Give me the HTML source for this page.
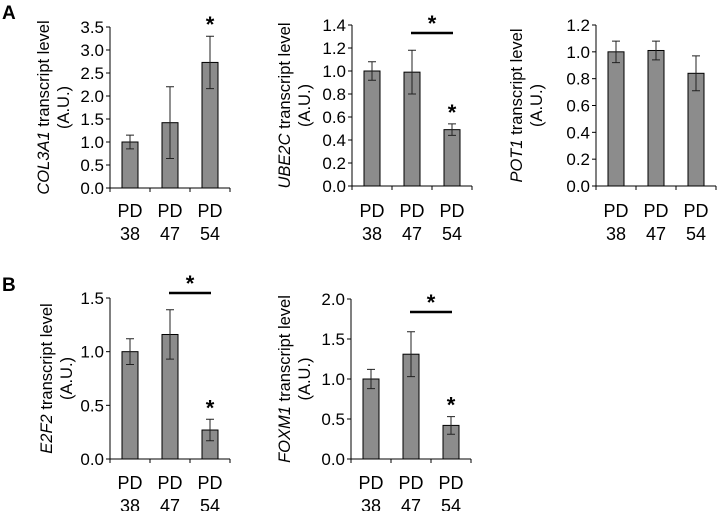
<!DOCTYPE html>
<html><head><meta charset="utf-8"><style>
html,body{margin:0;padding:0;background:#fff;overflow:hidden;}
svg text{font-family:"Liberation Sans",sans-serif;fill:#000;}
</style></head><body>
<svg id="fig" width="717" height="511" viewBox="0 0 717 511" xmlns="http://www.w3.org/2000/svg">
<text x="2" y="19" font-size="19" font-weight="bold">A</text>
<text x="2" y="291" font-size="19" font-weight="bold">B</text>
</svg>
<script>
const categories = [["PD","38"],["PD","47"],["PD","54"]];
const col3a1Values = [1.0, 1.42, 2.73];
const col3a1Errors = [0.15, 0.78, 0.57];
const ube2cValues = [1.0, 0.99, 0.49];
const ube2cErrors = [0.08, 0.19, 0.05];
const pot1Values = [1.0, 1.01, 0.84];
const pot1Errors = [0.08, 0.07, 0.13];
const e2f2Values = [1.0, 1.16, 0.27];
const e2f2Errors = [0.12, 0.23, 0.10];
const foxm1Values = [1.0, 1.31, 0.42];
const foxm1Errors = [0.12, 0.28, 0.11];
const col3a1Ticks = ["0.0","0.5","1.0","1.5","2.0","2.5","3.0","3.5"];
const ube2cTicks = ["0.0","0.2","0.4","0.6","0.8","1.0","1.2","1.4"];
const pot1Ticks = ["0.0","0.2","0.4","0.6","0.8","1.0","1.2"];
const e2f2Ticks = ["0.0","0.5","1.0","1.5"];
const foxm1Ticks = ["0.0","0.5","1.0","1.5","2.0"];

const NS = "http://www.w3.org/2000/svg";
const svg = document.getElementById('fig');
function mk(tag, attrs, parent){
  const e = document.createElementNS(NS, tag);
  for (const k in attrs) e.setAttribute(k, attrs[k]);
  (parent||svg).appendChild(e);
  return e;
}
function panel(cfg){
  const g = mk('g', {});
  
  
  const ticks = cfg.ticks.map(Number);
  const ymax = ticks[ticks.length-1];
  const y = v => cfg.y0 - (v/ymax)*(cfg.y0-cfg.y1);
  const x = i => cfg.ax + 20 + 40*i;
  const axEnd = cfg.ax + 120;
  const ya = mk('line', {x1:cfg.ax, y1:cfg.y1, x2:cfg.ax, y2:cfg.y0, stroke:'#000', 'stroke-width':1}, g);
  
  
  cfg.ticks.forEach(t => {
    const yy = y(Number(t));
    mk('line', {x1:cfg.ax-4, y1:yy, x2:cfg.ax, y2:yy, stroke:'#000'}, g);
    const tl = mk('text', {x:cfg.ax-6, y:yy+6, 'font-size':17, 'text-anchor':'end'}, g);
    tl.textContent = t;
    
    
  });
  const xa = mk('line', {x1:cfg.ax, y1:cfg.y0, x2:axEnd, y2:cfg.y0, stroke:'#000'}, g);
  
  
  for (let i=0;i<=3;i++) mk('line', {x1:cfg.ax+40*i, y1:cfg.y0, x2:cfg.ax+40*i, y2:cfg.y0+4, stroke:'#000'}, g);
  categories.forEach((c,i) => {
    const t1 = mk('text', {x:x(i), y:cfg.y0+cfg.lab1, 'font-size':18, 'text-anchor':'middle'}, g);
    t1.textContent = c[0];
    
    
    const t2 = mk('text', {x:x(i), y:cfg.y0+cfg.lab1+23, 'font-size':18, 'text-anchor':'middle'}, g);
    t2.textContent = c[1];
    
    
  });
  cfg.values.forEach((v,i) => {
    const b = mk('rect', {x:x(i)-8, y:y(v), width:16, height:cfg.y0-y(v), fill:'#8c8c8c', stroke:'#000', 'stroke-width':1}, g);
    
    
    const e = cfg.errors[i];
    const eb = mk('path', {d:`M${x(i)},${y(v+e)}V${y(v-e)}M${x(i)-4},${y(v+e)}H${x(i)+4}M${x(i)-4},${y(v-e)}H${x(i)+4}`, stroke:'#222', fill:'none', 'stroke-width':1}, g);
    
    
  });
  const cx = cfg.ax - cfg.titleOff, cy = (cfg.y0+cfg.y1)/2;
  const tt = mk('text', {x:cx+5, y:cy, 'font-size':16.5, 'text-anchor':'middle', transform:`rotate(-90 ${cx+5} ${cy})`}, g);
  
  
  const ts = mk('tspan', {'font-style':'italic'}, tt); ts.textContent = cfg.gene;
  const ts2 = mk('tspan', {}, tt); ts2.textContent = ' transcript level';
  const t3 = mk('text', {x:cx+25, y:cy, 'font-size':16.5, 'text-anchor':'middle', transform:`rotate(-90 ${cx+25} ${cy})`}, g);
  t3.textContent = '(A.U.)';
  
  
  if (cfg.barStar) {
    const v = cfg.values[2], e = cfg.errors[2];
    const s = mk('text', {x:x(2), y:y(v+e)-4, 'font-size':22, 'font-weight':'bold', 'text-anchor':'middle'}, g);
    s.textContent = '*';
    
    
  }
  if (cfg.bracketY) {
    const br = mk('line', {x1:x(1)-1, y1:cfg.bracketY, x2:x(2)+1, y2:cfg.bracketY, stroke:'#000', 'stroke-width':2.5}, g);
    
    
    const s = mk('text', {x:(x(1)+x(2))/2, y:cfg.bracketY-2, 'font-size':22, 'font-weight':'bold', 'text-anchor':'middle'}, g);
    s.textContent = '*';
    
    
  }
}
panel({name:'col3a1', gene:'COL3A1', ax:110, y0:188, y1:27, ticks:col3a1Ticks, values:col3a1Values, errors:col3a1Errors, barStar:true, titleOff:66, lab1:29});
panel({name:'ube2c', gene:'UBE2C', ax:352, y0:186, y1:25, ticks:ube2cTicks, values:ube2cValues, errors:ube2cErrors, barStar:true, bracketY:33, titleOff:67, lab1:31});
panel({name:'pot1', gene:'POT1', ax:596, y0:186, y1:25, ticks:pot1Ticks, values:pot1Values, errors:pot1Errors, titleOff:79, lab1:31});
panel({name:'e2f2', gene:'E2F2', ax:110, y0:459, y1:298, ticks:e2f2Ticks, values:e2f2Values, errors:e2f2Errors, barStar:true, bracketY:293, titleOff:63, lab1:30});
panel({name:'foxm1', gene:'FOXM1', ax:351, y0:459, y1:299, ticks:foxm1Ticks, values:foxm1Values, errors:foxm1Errors, barStar:true, bracketY:312, titleOff:66, lab1:30});
</script>
</body></html>
